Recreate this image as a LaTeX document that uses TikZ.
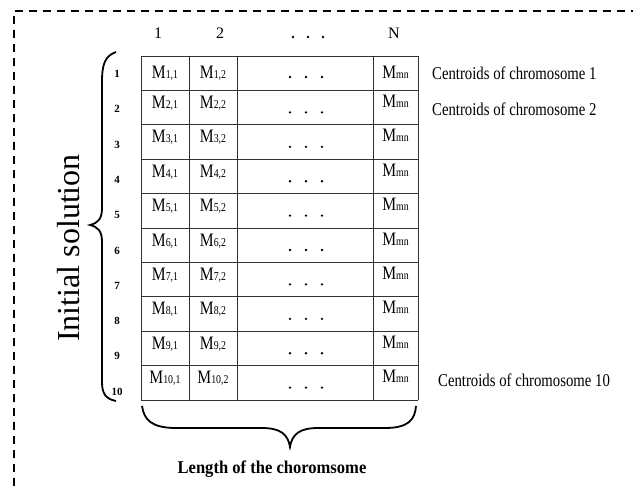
\documentclass[tikz,border=0pt]{standalone}
\usepackage{fontspec}
\setmainfont{Liberation Serif}
\newfontfamily\condf[FakeStretch=0.82]{Liberation Serif}
\newfontfamily\condbf[FakeStretch=0.92]{Liberation Serif}
\newcommand\cellM[1]{M{\fontsize{12}{12}\selectfont #1}}
\tikzset{
  grid/.style={draw=black!80, line width=0.9pt},
  celltxt/.style={anchor=base, inner sep=0pt, font=\condf\fontsize{19}{19}\selectfont},
  hdr/.style={anchor=base, inner sep=0pt, font=\fontsize{16}{16}\selectfont},
  rownum/.style={inner sep=0pt, font=\bfseries\fontsize{11}{11}\selectfont},
  lbl/.style={anchor=base west, inner sep=0pt, font=\condf\fontsize{18}{18}\selectfont},
  brc/.style={draw=black, line width=1.8pt},
  dotm/.style={fill=black, circle, inner sep=0pt, minimum size=2.6pt},
  frame/.style={draw=black, line width=1.5pt, dash pattern=on 8pt off 6pt}
}
\begin{document}
\begin{tikzpicture}[x=1pt,y=-1pt]
\useasboundingbox (0,0) rectangle (633,490);
\clip (0,0) rectangle (633,490);
\fill[white] (0,0) rectangle (633,490);
% dashed frame
\draw[frame] (14,500) -- (14,11) -- (640,11);
% table grid
\foreach \x in {141,189,237,373,418} \draw[grid] (\x,56) -- (\x,400);
\foreach \i in {0,...,10} \draw[grid] (141,56+34.4*\i) -- (418,56+34.4*\i);
% headers
\node[hdr] (h1) at (158,38) {1};
\node[hdr] (h2) at (220,38) {2};
\node[dotm] (hd1) at (293,37) {};
\node[dotm] (hd2) at (308,37) {};
\node[dotm] (hd3) at (323,37) {};
\node[hdr] (hN) at (394,38) {N};
% rows
\foreach \i in {1,...,10}{
  \pgfmathsetmacro\top{56+34.4*(\i-1)}
  \ifnum\i=1
    \pgfmathsetmacro\mb{\top+22}\pgfmathsetmacro\nb{\top+22}\pgfmathsetmacro\db{\top+21}
  \else
    \pgfmathsetmacro\mb{\top+18}\pgfmathsetmacro\nb{\top+17}\pgfmathsetmacro\db{\top+22}
  \fi
  \node[celltxt] (m\i a) at (165,\mb) {\cellM{\i,1}};
  \node[celltxt] (m\i b) at (213,\mb) {\cellM{\i,2}};
  \node[dotm] (d\i a) at (290,\db) {};
  \node[dotm] (d\i b) at (306,\db) {};
  \node[dotm] (d\i c) at (322,\db) {};
  \node[celltxt] (m\i n) at (395.5,\nb) {\cellM{mn}};
  \node[rownum] (r\i) at (117,{74+35.3*(\i-1)}) {\i};
}
% right labels
\node[lbl] (c1) at (432,79) {Centroids of chromosome 1};
\node[lbl] (c2) at (432,115) {Centroids of chromosome 2};
\node[lbl] (c10) at (438,386) {Centroids of chromosome 10};
% left brace
\draw[brc] (116,52) .. controls (105,56) and (102,64) .. (102,82) -- (102,208)
  .. controls (102,219) and (98,223) .. (90,225)
  .. controls (98,227) and (102,231) .. (102,242) -- (102,382)
  .. controls (102,394) and (106,399) .. (116,401);
\node[inner sep=0pt, rotate=90, font=\fontsize{32}{32}\selectfont] (init) at (69,248) {Initial solution};
% bottom brace
\draw[brc] (142,406) .. controls (144,420) and (152,428) .. (176,428) -- (262,428)
  .. controls (280,428) and (288,434) .. (290,447)
  .. controls (292,434) and (300,428) .. (318,428) -- (385,428)
  .. controls (408,428) and (415,420) .. (416,406);
\node[anchor=base, inner sep=0pt, font=\condbf\bfseries\fontsize{18}{18}\selectfont] (len) at (272,473) {Length of the choromsome};
\end{tikzpicture}
\end{document}
